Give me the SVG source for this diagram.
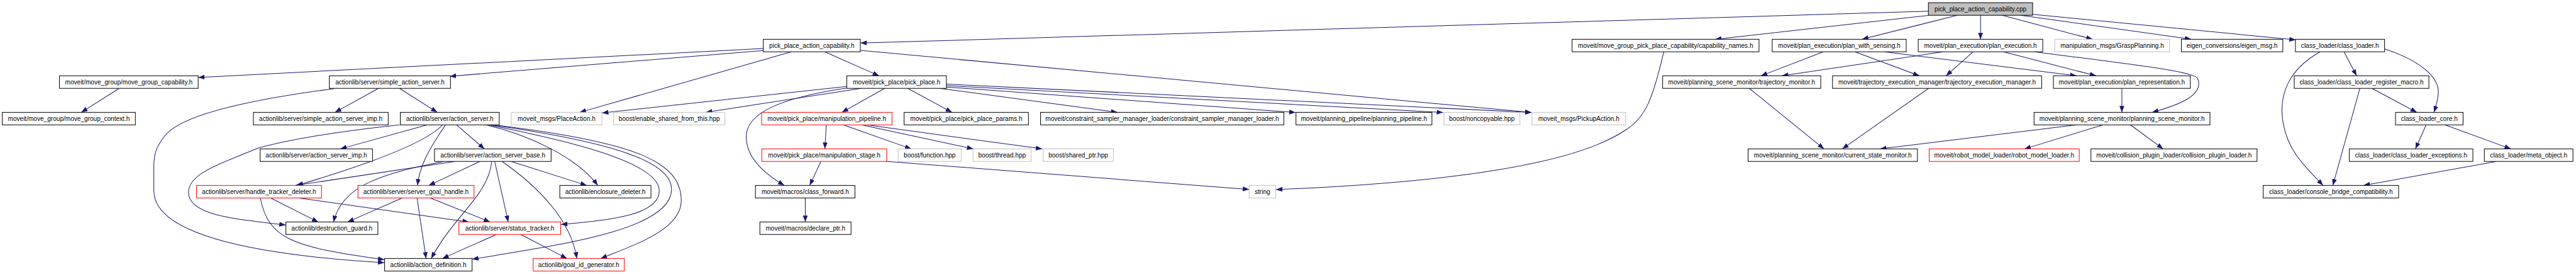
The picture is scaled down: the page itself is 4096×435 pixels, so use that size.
<svg xmlns="http://www.w3.org/2000/svg" width="4096" height="435" viewBox="0 0 4096 435">
<defs>
<style>
.n rect{fill:#fff;stroke:#000;stroke-width:1.3}
.n.red rect{stroke:#f00}
.n.ext rect{stroke:#bfbfbf}
.n.root rect{fill:#bfbfbf}
.n text{font-family:"Liberation Sans",Arial,sans-serif;font-size:13px;text-anchor:middle;fill:#000}
.e path{fill:none;stroke:#191970;stroke-width:1.3;marker-end:url(#ah)}
</style>
<marker id="ah" markerUnits="userSpaceOnUse" viewBox="0 0 13 10" refX="13" refY="5" markerWidth="13" markerHeight="10" orient="auto"><path d="M0,0 L13,5 L0,10 z" fill="#191970"/></marker>
</defs>
<rect width="4096" height="435" fill="#fff"/>
<g transform="scale(0.7765)">
<g id="edges" class="e">
<path d="M3948.8,23 L1762,88"/>
<path d="M3948.8,31.5 L3512,80.5"/>
<path d="M4008,31.2 L3813,80.3"/>
<path d="M4055.6,31.2 L4055.6,80.3"/>
<path d="M4100,31.2 L4285,80.3"/>
<path d="M4137.5,31.2 L4487,80.3"/>
<path d="M4162.3,29.3 L4701,81.5"/>
<path d="M1563,99.3 L406,158.3"/>
<path d="M1563,103.3 L921,156"/>
<path d="M1620.5,105.9 L1187,229.7"/>
<path d="M1689,105.9 L1800,155"/>
<path d="M1762,103 L3136,230"/>
<path d="M1811.7,180.6 L1724,229.7"/>
<path d="M1858.7,180.6 L1949.4,229.7"/>
<path d="M1923.6,180.6 L2288,229.7"/>
<path d="M1938,178 L2653,230"/>
<path d="M1938,175 L2955,230"/>
<path d="M1938,172 L3136,230"/>
<path d="M1734,176.7 L1233,231"/>
<path d="M1764,180.6 L1445.5,229.7"/>
<path d="M1734,180 C1600,200 1528,230 1528,280 C1528,320 1560,352 1606,379.1"/>
<path d="M1692,255.3 L1689,304.4"/>
<path d="M1727,255.3 L1866,304.4"/>
<path d="M1764,255.3 L1993,304.4"/>
<path d="M1775,255.3 L2134,304.4"/>
<path d="M1681,330 L1658,379.1"/>
<path d="M1815.7,330 L2558,387.3"/>
<path d="M1649,404.7 L1649,453.8"/>
<path d="M3407,105.9 C3385,200 3370,240 3330,265 C3250,320 3050,370 2613,387.5"/>
<path d="M244,180.6 L166.5,229.7"/>
<path d="M775,180.6 L686,229.7"/>
<path d="M818,180.6 L895.4,229.7"/>
<path d="M686,181 C540,200 380,230 340,275 C320,298 315,315 315,340 L315,390 C315,475 500,520 787,537"/>
<path d="M875,255.3 L697,304.4"/>
<path d="M818,255.3 C700,268 600,283 528,303 C450,335 386,355 386,393 C386,440 480,448 585,460"/>
<path d="M906,255.3 C870,295 740,340 608,379.1"/>
<path d="M912,255.3 C890,290 860,330 855,379.1"/>
<path d="M934.5,255.3 L992,304.4"/>
<path d="M995,255.3 C1080,275 1180,320 1224,379.1"/>
<path d="M1000,255.3 C1150,285 1350,330 1350,390 C1350,440 1250,450 1149,459"/>
<path d="M1005,255.3 C1250,290 1380,330 1375,390 C1370,470 1150,500 967,530"/>
<path d="M1010,255.3 C1300,290 1395,330 1395,410 C1395,470 1300,500 1230,528.5"/>
<path d="M983,330 L878,379.1"/>
<path d="M1013,330 L1040.7,453.8"/>
<path d="M1028,330 C1100,380 1170,450 1181,528.5"/>
<path d="M1007,330 C1000,400 930,440 883,528.5"/>
<path d="M1046.4,330 L1201.4,379.1"/>
<path d="M932,330 L605,379.1"/>
<path d="M909,330 C780,355 700,380 683,453.8"/>
<path d="M554,404.7 L651.5,453.8"/>
<path d="M533,404.7 C550,490 600,505 787,531"/>
<path d="M611.3,404.7 L960,453.8"/>
<path d="M823.7,404.7 L711.8,453.8"/>
<path d="M854,404.7 L872.5,528.5"/>
<path d="M881,404.7 L1003.4,453.8"/>
<path d="M1016.6,479.4 L905.8,528.5"/>
<path d="M1066.5,479.4 L1161,528.5"/>
<path d="M3733.6,105.9 L3606,155"/>
<path d="M3798.4,105.9 L3930.4,155"/>
<path d="M3858.7,105.9 L4252,155"/>
<path d="M3979,105.9 L3649,155"/>
<path d="M4040.6,105.9 L3985,155"/>
<path d="M4102.6,105.9 L4292,155"/>
<path d="M4166,105.9 C4350,130 4490,145 4500,160 C4515,195 4460,215 4407,229.7"/>
<path d="M4345,180.6 L4345,229.7"/>
<path d="M3582,180.6 L3735,304.4"/>
<path d="M3949.4,180.6 L3772.6,304.4"/>
<path d="M4252,255.3 L3850,304.4"/>
<path d="M4306.4,255.3 L4145.7,304.4"/>
<path d="M4362.6,255.3 L4429.5,304.4"/>
<path d="M4800,105.9 L4825.6,155"/>
<path d="M4883,100 C4960,125 4995,160 4993,190 C4992,205 4988,218 4984,229.7"/>
<path d="M4751,105.9 C4690,140 4665,190 4675,250 C4685,310 4720,340 4757,379.1"/>
<path d="M4857,180.6 L4949,229.7"/>
<path d="M4832.5,180.6 L4777,379.1"/>
<path d="M4968,255.3 L4946.2,304.4"/>
<path d="M5006.6,255.3 L5141.5,304.4"/>
<path d="M5112.6,330 L4840,379.1"/>
</g>
<g id="root" class="n root"><rect x="3948.8" y="5.6" width="213.5" height="25.6"/><text x="4055.55" y="23">pick_place_action_capability.cpp</text></g>
<g id="ppac_h" class="n"><rect x="1563" y="80.3" width="198.7" height="25.6"/><text x="1662.35" y="97.7">pick_place_action_capability.h</text></g>
<g id="cap_names" class="n"><rect x="3219.2" y="80.3" width="382.8" height="25.6"/><text x="3410.6" y="97.7">moveit/move_group_pick_place_capability/capability_names.h</text></g>
<g id="pws" class="n"><rect x="3629" y="80.3" width="274.4" height="25.6"/><text x="3766.2" y="97.7">moveit/plan_execution/plan_with_sensing.h</text></g>
<g id="pe" class="n"><rect x="3928" y="80.3" width="255" height="25.6"/><text x="4055.5" y="97.7">moveit/plan_execution/plan_execution.h</text></g>
<g id="grasp" class="n ext"><rect x="4207.7" y="80.3" width="235" height="25.6"/><text x="4325.2" y="97.7">manipulation_msgs/GraspPlanning.h</text></g>
<g id="eigen" class="n"><rect x="4466.8" y="80.3" width="207.8" height="25.6"/><text x="4570.7" y="97.7">eigen_conversions/eigen_msg.h</text></g>
<g id="cl" class="n"><rect x="4700.4" y="80.3" width="182.6" height="25.6"/><text x="4791.7" y="97.7">class_loader/class_loader.h</text></g>
<g id="mgcap" class="n"><rect x="121.7" y="155" width="284.1" height="25.6"/><text x="263.75" y="172.4">moveit/move_group/move_group_capability.h</text></g>
<g id="sas" class="n"><rect x="674.4" y="155" width="248.1" height="25.6"/><text x="798.45" y="172.4">actionlib/server/simple_action_server.h</text></g>
<g id="pp" class="n"><rect x="1734" y="155" width="204" height="25.6"/><text x="1836" y="172.4">moveit/pick_place/pick_place.h</text></g>
<g id="tm" class="n"><rect x="3404.6" y="155" width="323.8" height="25.6"/><text x="3566.5" y="172.4">moveit/planning_scene_monitor/trajectory_monitor.h</text></g>
<g id="tem" class="n"><rect x="3752.5" y="155" width="428.2" height="25.6"/><text x="3966.6" y="172.4">moveit/trajectory_execution_manager/trajectory_execution_manager.h</text></g>
<g id="prep" class="n"><rect x="4204.8" y="155" width="280.4" height="25.6"/><text x="4345" y="172.4">moveit/plan_execution/plan_representation.h</text></g>
<g id="clrm" class="n"><rect x="4698" y="155" width="275.7" height="25.6"/><text x="4835.85" y="172.4">class_loader/class_loader_register_macro.h</text></g>
<g id="mgctx" class="n"><rect x="4.6" y="229.7" width="272.6" height="25.6"/><text x="140.9" y="247.1">moveit/move_group/move_group_context.h</text></g>
<g id="sasimp" class="n"><rect x="518.9" y="229.7" width="276.1" height="25.6"/><text x="656.95" y="247.1">actionlib/server/simple_action_server_imp.h</text></g>
<g id="as" class="n"><rect x="819.7" y="229.7" width="202.6" height="25.6"/><text x="921" y="247.1">actionlib/server/action_server.h</text></g>
<g id="place" class="n ext"><rect x="1047" y="229.7" width="185.5" height="25.6"/><text x="1139.75" y="247.1">moveit_msgs/PlaceAction.h</text></g>
<g id="esft" class="n ext"><rect x="1256.6" y="229.7" width="227.9" height="25.6"/><text x="1370.55" y="247.1">boost/enable_shared_from_this.hpp</text></g>
<g id="mpipe" class="n red"><rect x="1559.6" y="229.7" width="267" height="25.6"/><text x="1693.1" y="247.1">moveit/pick_place/manipulation_pipeline.h</text></g>
<g id="ppparams" class="n"><rect x="1851.3" y="229.7" width="254.7" height="25.6"/><text x="1978.65" y="247.1">moveit/pick_place/pick_place_params.h</text></g>
<g id="csml" class="n"><rect x="2130.8" y="229.7" width="498.2" height="25.6"/><text x="2379.9" y="247.1">moveit/constraint_sampler_manager_loader/constraint_sampler_manager_loader.h</text></g>
<g id="ppipe" class="n"><rect x="2653.8" y="229.7" width="278.4" height="25.6"/><text x="2793" y="247.1">moveit/planning_pipeline/planning_pipeline.h</text></g>
<g id="noncopy" class="n ext"><rect x="2956.8" y="229.7" width="155.6" height="25.6"/><text x="3034.6" y="247.1">boost/noncopyable.hpp</text></g>
<g id="pickup" class="n ext"><rect x="3137" y="229.7" width="191.8" height="25.6"/><text x="3232.9" y="247.1">moveit_msgs/PickupAction.h</text></g>
<g id="psm" class="n"><rect x="4165.2" y="229.7" width="360.2" height="25.6"/><text x="4345.3" y="247.1">moveit/planning_scene_monitor/planning_scene_monitor.h</text></g>
<g id="clcore" class="n"><rect x="4905.4" y="229.7" width="138.3" height="25.6"/><text x="4974.55" y="247.1">class_loader_core.h</text></g>
<g id="asimp" class="n"><rect x="532.7" y="304.4" width="230.1" height="25.6"/><text x="647.75" y="321.8">actionlib/server/action_server_imp.h</text></g>
<g id="asbase" class="n"><rect x="889.8" y="304.4" width="238.7" height="25.6"/><text x="1009.15" y="321.8">actionlib/server/action_server_base.h</text></g>
<g id="mstage" class="n red"><rect x="1560" y="304.4" width="255.7" height="25.6"/><text x="1687.85" y="321.8">moveit/pick_place/manipulation_stage.h</text></g>
<g id="func" class="n ext"><rect x="1839.2" y="304.4" width="129.2" height="25.6"/><text x="1903.8" y="321.8">boost/function.hpp</text></g>
<g id="thread" class="n ext"><rect x="1992.5" y="304.4" width="118.8" height="25.6"/><text x="2051.9" y="321.8">boost/thread.hpp</text></g>
<g id="sptr" class="n ext"><rect x="2136" y="304.4" width="144" height="25.6"/><text x="2208" y="321.8">boost/shared_ptr.hpp</text></g>
<g id="csm" class="n"><rect x="3579.7" y="304.4" width="346.7" height="25.6"/><text x="3753.05" y="321.8">moveit/planning_scene_monitor/current_state_monitor.h</text></g>
<g id="rml" class="n red"><rect x="3950.5" y="304.4" width="307.2" height="25.6"/><text x="4104.1" y="321.8">moveit/robot_model_loader/robot_model_loader.h</text></g>
<g id="cpl" class="n"><rect x="4281.7" y="304.4" width="340.1" height="25.6"/><text x="4451.75" y="321.8">moveit/collision_plugin_loader/collision_plugin_loader.h</text></g>
<g id="clexc" class="n"><rect x="4810.7" y="304.4" width="253.1" height="25.6"/><text x="4937.25" y="321.8">class_loader/class_loader_exceptions.h</text></g>
<g id="meta" class="n"><rect x="5087.3" y="304.4" width="181.4" height="25.6"/><text x="5178" y="321.8">class_loader/meta_object.h</text></g>
<g id="htd" class="n red"><rect x="402.4" y="379.1" width="256" height="25.6"/><text x="530.4" y="396.5">actionlib/server/handle_tracker_deleter.h</text></g>
<g id="sgh" class="n red"><rect x="733" y="379.1" width="237.7" height="25.6"/><text x="851.85" y="396.5">actionlib/server/server_goal_handle.h</text></g>
<g id="encl" class="n"><rect x="1146.3" y="379.1" width="186.7" height="25.6"/><text x="1239.65" y="396.5">actionlib/enclosure_deleter.h</text></g>
<g id="cfwd" class="n"><rect x="1547" y="379.1" width="203.7" height="25.6"/><text x="1648.85" y="396.5">moveit/macros/class_forward.h</text></g>
<g id="string" class="n ext"><rect x="2557.9" y="379.1" width="54.5" height="25.6"/><text x="2585.15" y="396.5">string</text></g>
<g id="cbc" class="n"><rect x="4634.4" y="379.1" width="277.3" height="25.6"/><text x="4773.05" y="396.5">class_loader/console_bridge_compatibility.h</text></g>
<g id="dguard" class="n"><rect x="585.5" y="453.8" width="188.3" height="25.6"/><text x="679.65" y="471.2">actionlib/destruction_guard.h</text></g>
<g id="stracker" class="n red"><rect x="939.7" y="453.8" width="208.3" height="25.6"/><text x="1043.85" y="471.2">actionlib/server/status_tracker.h</text></g>
<g id="dptr" class="n"><rect x="1556" y="453.8" width="186.7" height="25.6"/><text x="1649.35" y="471.2">moveit/macros/declare_ptr.h</text></g>
<g id="adef" class="n"><rect x="787.6" y="528.5" width="179.1" height="25.6"/><text x="877.15" y="545.9">actionlib/action_definition.h</text></g>
<g id="goalid" class="n red"><rect x="1091.8" y="528.5" width="186.6" height="25.6"/><text x="1185.1" y="545.9">actionlib/goal_id_generator.h</text></g>
</g>
</svg>
